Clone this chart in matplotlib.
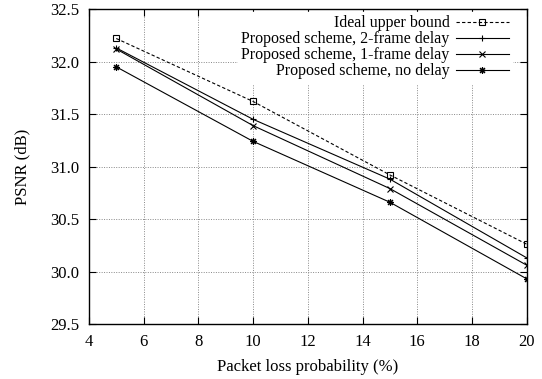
import matplotlib
matplotlib.use("Agg")
import matplotlib.pyplot as plt

# packet loss probability (%)
loss = [5, 10, 15, 20]

# PSNR values (dB)
ideal = [32.22, 31.62, 30.92, 30.26]
delay2 = [32.13, 31.45, 30.88, 30.13]
delay1 = [32.12, 31.39, 30.79, 30.06]
nodelay = [31.95, 31.24, 30.66, 29.93]

xticks = [4, 6, 8, 10, 12, 14, 16, 18, 20]
yticks = [29.5, 30.0, 30.5, 31.0, 31.5, 32.0, 32.5]

plt.rcParams['font.family'] = ['Liberation Serif', 'DejaVu Serif']
plt.rcParams['font.size'] = 12

fig = plt.figure(figsize=(5.42, 3.79), dpi=100)
ax = fig.add_axes([0.164, 0.145, 0.808, 0.831])

ax.plot(loss, ideal, color='black', lw=0.8, ls=(0, (3, 2)), marker='s',
        ms=4, mfc='none', mew=0.8, label='Ideal upper bound')
ax.plot(loss, delay2, color='black', lw=0.8, marker='+', ms=5, mew=0.8,
        label='Proposed scheme, 2-frame delay')
ax.plot(loss, delay1, color='black', lw=0.8, marker='x', ms=4, mew=0.8,
        label='Proposed scheme, 1-frame delay')
ax.plot(loss, nodelay, color='black', lw=0.8, marker=(8, 2, 0), ms=5, mew=0.8,
        label='Proposed scheme, no delay')

ax.set_xlim(4, 20)
ax.set_ylim(29.5, 32.5)
ax.set_xticks(xticks)
ax.set_yticks(yticks)
ax.set_yticklabels(['%.1f' % v for v in yticks])
ax.tick_params(direction='in', top=True, right=True, length=5, width=0.8)
ax.tick_params(axis='x', pad=7)
ax.tick_params(axis='y', pad=7)
ax.grid(True, color='#888888', ls=(0, (1, 1.5)), lw=0.7)
for s in ax.spines.values():
    s.set_linewidth(1.0)

ax.set_xlabel('Packet loss probability (%)', labelpad=7)
ax.set_ylabel('PSNR (dB)', labelpad=14)

leg = ax.legend(loc='upper right', bbox_to_anchor=(0.966, 0.99),
                markerfirst=False, handlelength=3.3, fontsize=11.5,
                labelspacing=0.0, borderaxespad=0, handletextpad=0.4,
                fancybox=False, framealpha=1, borderpad=0.2)
leg.get_frame().set_edgecolor('white')
for t in leg.get_texts():
    t.set_ha('right')

fig.savefig('out.png', dpi=100)
